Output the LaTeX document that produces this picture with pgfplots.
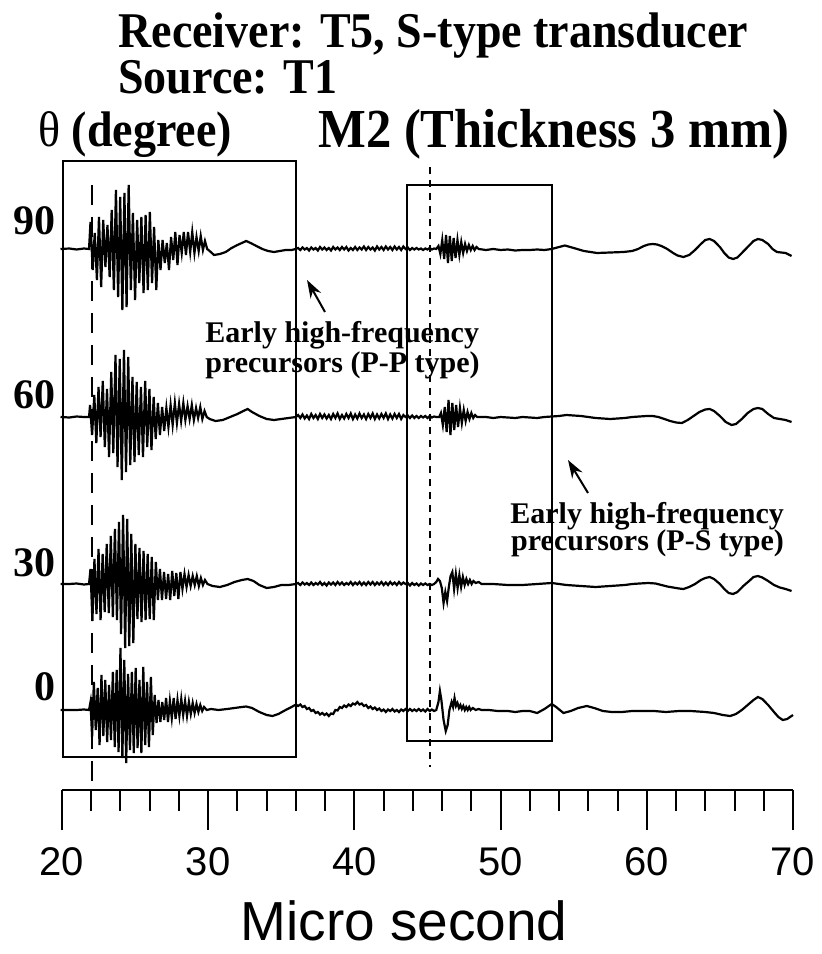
\documentclass[border=0pt]{standalone}
\usepackage{fontspec}
\setmainfont{Liberation Serif}
\setsansfont{Liberation Sans}
\newfontfamily\narrowserif[FakeStretch=0.92]{Liberation Serif}
\usepackage{pgfplots}
\pgfplotsset{compat=1.18}
\usepackage{pgfplotstable}
\usetikzlibrary{arrows.meta}

% t = time (micro second), a = trace deflection (arbitrary units, up positive)
\pgfplotstableread[row sep=\\]{
t a\\
19.90 0\\ 20.50 0.5\\ 21.00 -0.5\\ 21.50 0.5\\ 21.85 0\\
21.95 27\\ 22.10 -21\\ 22.24 16\\ 22.39 -31\\ 22.53 32\\ 22.68 -38\\ 22.82 29\\ 22.97 -18\\
23.11 24\\ 23.26 -28\\ 23.40 39\\ 23.55 -41\\ 23.69 59\\ 23.84 -48\\ 23.98 52\\ 24.13 -61\\
24.27 56\\ 24.42 -58\\ 24.56 64\\ 24.71 -41\\ 24.85 36\\ 25.00 -51\\ 25.14 29\\ 25.29 -34\\
25.43 32\\ 25.58 -44\\ 25.72 34\\ 25.87 -41\\ 26.01 37\\ 26.16 -34\\ 26.30 22\\ 26.45 -41\\
26.59 9\\ 26.74 -21\\ 26.88 9\\ 27.03 -14\\ 27.17 6\\ 27.32 -21\\ 27.46 12\\ 27.61 -11\\
27.75 17\\ 27.90 -16\\ 28.04 14\\ 28.19 -4\\ 28.33 17\\ 28.48 -6\\ 28.62 17\\ 28.77 -3\\
28.91 17\\ 29.06 -4\\ 29.20 12\\ 29.35 -2\\ 29.49 13\\ 29.64 -1\\ 29.78 8\\ 29.93 0\\
30.10 -2\\ 30.40 -6\\ 30.80 -5\\ 31.20 -3\\ 31.60 1\\ 32.00 4\\ 32.30 6\\ 32.60 8\\ 32.90 6\\
33.30 3\\ 33.70 0\\ 34.10 -2\\ 34.50 -3\\ 34.90 -2\\ 35.30 -1\\ 35.70 -1\\ 36.00 0\\
36.15 1\\ 36.30 -1\\ 36.45 1.5\\ 36.60 -0.5\\ 36.75 1\\ 36.90 -1.5\\ 37.05 1.5\\ 37.20 -0.5\\
37.35 1\\ 37.50 -1.5\\ 37.65 2\\ 37.80 -0.5\\ 37.95 1.5\\ 38.10 -1\\ 38.25 1\\ 38.40 -1.5\\
38.55 2\\ 38.70 -0.5\\ 38.85 1.5\\ 39.00 -1\\ 39.15 2\\ 39.30 -0.5\\ 39.45 2\\ 39.60 -1.5\\
39.75 1\\ 39.90 -1\\ 40.05 2\\ 40.20 -1\\ 40.35 1.5\\ 40.50 -0.5\\ 40.65 2.5\\ 40.80 -1\\
40.95 2\\ 41.10 -0.5\\ 41.25 1.5\\ 41.40 -1.5\\ 41.55 2.5\\ 41.70 -0.5\\ 41.85 2\\ 42.00 -1\\
42.15 2.5\\ 42.30 -0.5\\ 42.45 2\\ 42.60 -1\\ 42.75 2.5\\ 42.90 -0.5\\ 43.05 2\\ 43.20 -1\\
43.35 2.5\\ 43.50 0\\
43.65 1.5\\ 43.80 -1\\ 43.95 1\\ 44.10 -0.5\\ 44.25 1\\ 44.40 -0.5\\ 44.55 0.5\\ 44.70 -1\\
44.85 0.5\\ 45.00 -0.5\\ 45.15 1\\ 45.30 -0.5\\ 45.45 0.5\\ 45.60 0\\
45.75 3\\ 45.88 -5\\ 46.01 9\\ 46.14 -10\\ 46.27 14\\ 46.40 -14\\ 46.53 13\\ 46.66 -12\\
46.79 11\\ 46.92 -9\\ 47.05 9\\ 47.18 -6\\ 47.31 7\\ 47.44 -4\\ 47.57 5\\ 47.70 -2\\
47.83 4\\ 47.96 -1\\ 48.09 3\\ 48.22 -1\\ 48.35 2\\ 48.50 0\\ 49.00 -1\\ 49.50 0\\
50.00 -1\\ 50.50 -0.5\\ 51.00 -1.5\\ 51.50 -1\\ 52.00 -1\\ 52.50 -0.5\\ 53.00 -1\\ 53.50 0\\
54.00 2\\ 54.40 3.5\\ 55.00 1\\ 55.70 -2\\ 56.60 -4\\ 57.50 -3.5\\ 58.40 -3\\
59.00 -2\\ 59.40 0\\ 59.80 3\\ 60.10 4.5\\ 60.40 5\\ 60.70 4.5\\ 61.00 3\\ 61.40 0\\
61.80 -4\\ 62.10 -6.5\\ 62.50 -8\\ 62.90 -6\\ 63.30 -1\\ 63.70 5\\ 64.00 9\\ 64.30 10\\
64.60 8\\ 65.00 2\\ 65.30 -4\\ 65.60 -8.5\\ 65.90 -10\\ 66.20 -8.5\\ 66.50 -4\\ 66.90 2\\
67.30 8\\ 67.60 10\\ 67.90 9\\ 68.30 5\\ 68.60 0\\ 68.90 -3\\ 69.20 -3.5\\ 69.50 -4\\ 69.90 -7\\
}\trNinety

\pgfplotstableread[row sep=\\]{
t a\\
19.90 0\\ 20.50 -0.5\\ 21.00 0.5\\ 21.50 0\\ 21.85 0\\
21.92 12\\ 22.06 -18\\ 22.21 22\\ 22.35 -26\\ 22.50 30\\ 22.64 -20\\ 22.79 36\\ 22.93 -30\\
23.08 28\\ 23.22 -40\\ 23.37 45\\ 23.51 -36\\ 23.66 62\\ 23.80 -50\\ 23.95 58\\ 24.09 -63\\
24.24 67\\ 24.38 -55\\ 24.53 60\\ 24.67 -48\\ 24.82 40\\ 24.96 -45\\ 25.11 35\\ 25.25 -38\\
25.40 30\\ 25.54 -40\\ 25.69 36\\ 25.83 -30\\ 25.98 28\\ 26.12 -33\\ 26.27 20\\ 26.41 -22\\
26.56 14\\ 26.70 -18\\ 26.85 10\\ 26.99 -14\\ 27.14 9\\ 27.28 -10\\ 27.43 12\\ 27.57 -8\\
27.72 14\\ 27.86 -6\\ 28.01 13\\ 28.15 -4\\ 28.30 14\\ 28.44 -3\\ 28.59 11\\ 28.73 -2\\
28.88 12\\ 29.02 -3\\ 29.17 9\\ 29.31 -1\\ 29.46 10\\ 29.60 -2\\ 29.75 6\\ 29.90 0\\
30.10 -2\\ 30.50 -4\\ 31.00 -3\\ 31.50 0\\ 32.00 3\\ 32.40 6\\ 32.70 8\\ 33.00 5\\ 33.50 1\\
34.00 -2\\ 34.50 -3\\ 35.00 -2\\ 35.50 -1\\ 36.00 0\\
36.15 2\\ 36.30 -1\\ 36.45 2.5\\ 36.60 -1.5\\ 36.75 1.5\\ 36.90 -2\\ 37.05 3\\ 37.20 -1\\
37.35 2\\ 37.50 -2\\ 37.65 3\\ 37.80 -1\\ 37.95 2.5\\ 38.10 -1.5\\ 38.25 2\\ 38.40 -2\\
38.55 3\\ 38.70 -1\\ 38.85 3.5\\ 39.00 -2\\ 39.15 2\\ 39.30 -1.5\\ 39.45 3\\ 39.60 -1\\
39.75 3.5\\ 39.90 -2\\ 40.05 2.5\\ 40.20 -1.5\\ 40.35 3.5\\ 40.50 -1\\ 40.65 2.5\\ 40.80 -2\\
40.95 3\\ 41.10 -1\\ 41.25 3.5\\ 41.40 -2\\ 41.55 2.5\\ 41.70 -1.5\\ 41.85 3\\ 42.00 -1\\
42.15 3.5\\ 42.30 -2\\ 42.45 2.5\\ 42.60 -1.5\\ 42.75 3\\ 42.90 -1\\ 43.05 3\\ 43.20 -2\\
43.35 2\\ 43.50 0\\
43.65 1.5\\ 43.80 -1\\ 43.95 1.5\\ 44.10 -1\\ 44.25 1\\ 44.40 -1\\ 44.55 1\\ 44.70 -0.5\\
44.85 1\\ 45.00 -1\\ 45.15 1\\ 45.30 -0.5\\ 45.45 0.5\\ 45.60 0\\ 45.80 0\\
45.92 4\\ 46.05 -8\\ 46.18 10\\ 46.31 -15\\ 46.44 17\\ 46.57 -18\\ 46.70 14\\ 46.83 -13\\
46.96 12\\ 47.09 -10\\ 47.22 9\\ 47.35 -6\\ 47.48 7\\ 47.61 -4\\ 47.74 5\\ 47.87 -2\\
48.00 4\\ 48.13 -1\\ 48.26 2\\ 48.40 0\\ 49.00 0\\ 49.50 -1\\ 50.00 0\\ 50.50 -0.5\\
51.00 -1\\ 51.50 0\\ 52.00 -0.5\\ 52.50 -1\\ 53.00 0\\ 53.50 0.5\\
54.00 1\\ 54.50 2\\ 55.00 1.5\\ 55.50 1\\ 56.00 0\\ 56.50 -1\\ 57.00 -1.5\\ 57.50 -2\\
58.00 -1.5\\ 58.50 -1\\ 59.00 0\\ 59.50 0.5\\ 60.00 1\\ 60.40 1\\ 60.80 0\\ 61.20 -2\\
61.60 -4\\ 62.00 -5.5\\ 62.40 -6\\ 62.80 -3\\ 63.20 1\\ 63.60 5\\ 64.00 7.5\\ 64.30 8\\
64.60 6\\ 65.00 1\\ 65.40 -5\\ 65.80 -8\\ 66.10 -7\\ 66.50 -2\\ 66.90 4\\ 67.30 8\\
67.60 9\\ 67.90 8\\ 68.30 3\\ 68.70 -1\\ 69.10 -2\\ 69.50 -3\\ 69.90 -5\\
}\trSixty

\pgfplotstableread[row sep=\\]{
t a\\
19.90 0\\ 20.50 0\\ 21.00 0.5\\ 21.50 -0.5\\ 21.85 0\\
21.95 15\\ 22.08 -37\\ 22.22 25\\ 22.36 -30\\ 22.50 35\\ 22.64 -36\\ 22.78 30\\ 22.92 -28\\
23.06 40\\ 23.20 -29\\ 23.34 48\\ 23.48 -33\\ 23.62 55\\ 23.76 -36\\ 23.90 62\\ 24.04 -50\\
24.18 69\\ 24.32 -64\\ 24.46 65\\ 24.60 -62\\ 24.74 50\\ 24.88 -59\\ 25.02 40\\ 25.16 -35\\
25.30 36\\ 25.44 -38\\ 25.58 33\\ 25.72 -36\\ 25.86 30\\ 26.00 -35\\ 26.14 27\\ 26.28 -36\\
26.42 22\\ 26.56 -16\\ 26.70 15\\ 26.84 -16\\ 26.98 12\\ 27.12 -15\\ 27.26 10\\ 27.40 -16\\
27.54 13\\ 27.68 -12\\ 27.82 11\\ 27.96 -15\\ 28.10 12\\ 28.24 -5\\ 28.38 10\\ 28.52 -3\\
28.66 9\\ 28.80 -2\\ 28.94 8\\ 29.08 -1\\ 29.22 8\\ 29.36 -2\\ 29.50 6\\ 29.64 -1\\
29.78 4\\ 29.95 0\\
30.30 -2\\ 30.80 -3\\ 31.30 -1\\ 31.80 2\\ 32.30 4\\ 32.70 5\\ 33.10 3\\ 33.50 -1\\
34.00 -4\\ 34.50 -3\\ 35.00 -1\\ 35.50 -1\\ 36.00 0\\
36.15 1\\ 36.30 -1\\ 36.45 1.5\\ 36.60 -0.5\\ 36.75 1\\ 36.90 -1\\ 37.05 1.5\\ 37.20 -1\\
37.35 1\\ 37.50 -0.5\\ 37.65 2\\ 37.80 -1\\ 37.95 1\\ 38.10 -1.5\\ 38.25 1.5\\ 38.40 -0.5\\
38.55 1.5\\ 38.70 -1\\ 38.85 2\\ 39.00 -0.5\\ 39.15 1.5\\ 39.30 -1\\ 39.45 1\\ 39.60 -0.5\\
39.75 2\\ 39.90 -1\\ 40.05 1.5\\ 40.20 -0.5\\ 40.35 2\\ 40.50 -1\\ 40.65 1.5\\ 40.80 -1\\
40.95 2\\ 41.10 -0.5\\ 41.25 2\\ 41.40 -1\\ 41.55 1.5\\ 41.70 -0.5\\ 41.85 2\\ 42.00 -1\\
42.15 1.5\\ 42.30 -1\\ 42.45 2\\ 42.60 -0.5\\ 42.75 1.5\\ 42.90 -1\\ 43.05 2\\ 43.20 -0.5\\
43.35 1.5\\ 43.50 0\\
43.65 1\\ 43.80 -1.5\\ 43.95 1\\ 44.10 -1\\ 44.25 0.5\\ 44.40 -1.5\\ 44.55 0.5\\ 44.70 -1\\
44.85 0.5\\ 45.00 -1\\ 45.15 0\\ 45.30 -1\\ 45.45 0\\ 45.60 2\\
45.72 5\\ 45.85 3\\ 45.98 -4\\ 46.10 -19\\ 46.22 -8\\ 46.34 -17\\ 46.46 -3\\ 46.58 8\\
46.70 12\\ 46.82 -5\\ 46.94 10\\ 47.06 -4\\ 47.18 9\\ 47.30 -3\\ 47.42 7\\ 47.54 -1\\
47.66 5\\ 47.78 0\\ 47.90 4\\ 48.02 0\\ 48.14 3\\ 48.30 1\\ 48.50 2\\ 48.70 0\\
49.50 0\\ 50.50 -1\\ 51.50 -1\\ 52.50 0\\ 53.50 1\\
54.00 0\\ 54.50 -1\\ 55.00 -1.5\\ 55.50 -2\\ 56.00 -2.5\\ 56.50 -3\\ 57.00 -2.5\\ 57.50 -2\\
58.00 -1.5\\ 58.50 -1\\ 59.00 0\\ 59.50 0.5\\ 60.10 1\\ 60.60 0.5\\ 61.00 -1\\ 61.40 -2.5\\
61.80 -3.5\\ 62.20 -4.5\\ 62.50 -5\\ 62.90 -3\\ 63.30 0\\ 63.70 4\\ 64.00 6\\ 64.30 7\\
64.60 5\\ 65.00 0\\ 65.30 -5\\ 65.60 -9\\ 65.90 -10\\ 66.20 -8\\ 66.60 -2\\ 67.00 3\\
67.30 7\\ 67.60 8\\ 67.90 6.5\\ 68.30 3\\ 68.70 -1\\ 69.10 -3.5\\ 69.50 -5\\ 69.90 -7\\
}\trThirty

\pgfplotstableread[row sep=\\]{
t a\\
19.90 0\\ 20.50 0\\ 21.00 0\\ 21.50 0.5\\ 21.85 0\\
21.95 8\\ 22.06 -27\\ 22.18 28\\ 22.31 -20\\ 22.44 22\\ 22.57 -35\\ 22.70 35\\ 22.83 -26\\
22.96 30\\ 23.09 -32\\ 23.22 25\\ 23.35 -30\\ 23.48 38\\ 23.61 -37\\ 23.74 40\\ 23.87 -42\\
24.00 62\\ 24.13 -48\\ 24.26 50\\ 24.39 -53\\ 24.52 36\\ 24.65 -40\\ 24.78 38\\ 24.91 -43\\
25.04 42\\ 25.17 -38\\ 25.30 30\\ 25.43 -43\\ 25.56 43\\ 25.69 -35\\ 25.82 28\\ 25.95 -37\\
26.08 33\\ 26.21 -25\\ 26.34 15\\ 26.47 -13\\ 26.60 10\\ 26.73 -12\\ 26.86 8\\ 26.99 -10\\
27.12 12\\ 27.25 -12\\ 27.38 9\\ 27.51 -8\\ 27.64 12\\ 27.77 -9\\ 27.90 10\\ 28.03 -6\\
28.16 11\\ 28.29 -5\\ 28.42 9\\ 28.55 -6\\ 28.68 8\\ 28.81 -4\\ 28.94 7\\ 29.07 -3\\
29.20 6\\ 29.33 -2\\ 29.46 5\\ 29.59 -1\\ 29.72 3\\ 29.90 0\\
30.20 1\\ 30.70 0\\ 31.30 1\\ 31.80 2\\ 32.30 3\\ 32.60 3.5\\ 33.00 2\\ 33.50 -2\\
34.00 -5\\ 34.40 -6\\ 34.80 -4\\ 35.30 0\\ 35.70 3\\
36.00 5.5\\ 36.15 4\\ 36.30 5.5\\ 36.45 3\\ 36.60 4\\ 36.75 1\\ 36.90 2\\ 37.05 -1\\
37.20 0\\ 37.35 -3\\ 37.50 -2\\ 37.65 -4.5\\ 37.80 -3\\ 37.95 -5\\ 38.10 -3.5\\ 38.25 -6\\
38.40 -3.5\\ 38.55 -4\\ 38.70 0\\ 38.85 -0.5\\ 39.00 3\\ 39.15 2\\ 39.30 4.5\\ 39.45 3\\
39.60 5.5\\ 39.75 4\\ 39.90 6.5\\ 40.05 5.5\\ 40.20 8\\ 40.35 5.5\\ 40.50 6.5\\ 40.65 4\\
40.80 5\\ 40.95 2\\ 41.10 3.5\\ 41.25 1\\ 41.40 2.5\\ 41.55 0\\ 41.70 1.5\\ 41.85 -1\\
42.00 0.5\\ 42.15 -2\\ 42.30 0.5\\ 42.45 -1\\ 42.60 1\\ 42.75 -1.5\\ 42.90 0\\ 43.05 -2\\
43.20 0.5\\ 43.35 -1\\ 43.50 1\\
43.65 -1\\ 43.80 1\\ 43.95 -1\\ 44.10 0.5\\ 44.25 -1\\ 44.40 1\\ 44.55 -1\\ 44.70 0.5\\
44.85 -1.5\\ 45.00 1\\ 45.15 -1\\ 45.30 0.5\\ 45.45 -1\\ 45.60 0\\
45.75 8\\ 45.85 19\\ 45.95 10\\ 46.10 -10\\ 46.25 -21\\ 46.38 -15\\ 46.50 0\\ 46.65 8\\
46.75 3\\ 46.85 12\\ 46.95 4\\ 47.05 7\\ 47.15 2\\ 47.25 5\\ 47.35 1\\ 47.45 4\\
47.55 0\\ 47.65 3\\ 47.75 0\\ 47.85 3\\ 47.95 0\\ 48.10 2\\ 48.30 0\\ 48.50 1\\ 48.70 0\\
49.20 0\\ 49.80 -1\\ 50.50 -1\\ 51.00 -2\\ 51.50 -1\\ 52.00 -1\\ 52.50 -3\\ 53.00 1\\
53.50 6\\ 53.80 3\\ 54.30 -3\\ 54.80 -1\\ 55.30 2\\ 55.90 4\\ 56.40 2\\ 57.00 -1\\
57.60 -2\\ 58.30 -2\\ 59.00 -1\\ 59.80 -1\\ 60.50 -1\\ 61.30 -2\\ 62.20 -1\\ 63.00 -1\\
64.00 -2\\ 64.60 -3\\ 65.20 -5\\ 65.70 -6\\ 66.10 -4\\ 66.50 0\\ 66.90 5\\ 67.30 10\\
67.60 13\\ 67.90 11\\ 68.30 5\\ 68.70 -2\\ 69.00 -7\\ 69.30 -10\\ 69.60 -9\\ 70.00 -5\\
}\trZero

\begin{document}
\begin{tikzpicture}
\begin{axis}[
    x=7.31pt, y=0.5pt,
    xmin=20, xmax=70, ymin=164, ymax=854,
    axis x line*=bottom, axis y line=none,
    ytick=\empty,
    xtick={20,30,40,50,60,70}, xticklabels={20,30,40,50,60,70},
    minor xtick={22,24,26,28,32,34,36,38,42,44,46,48,52,54,56,58,62,64,66,68},
    tick align=outside,
    major tick length=20pt, minor tick length=10.5pt,
    tick style={black,line width=1pt},
    x axis line style={line width=1.4pt,-},
    xticklabel style={font=\sffamily\fontsize{20}{20}\selectfont, yshift=-5pt},
    clip=false,
]
  % page frame with the reference proportions
  \path (axis cs:15.76,0) rectangle (axis cs:71.78,954);

  % traces, offset to their row
  \addplot[black,line width=1.1pt] table[x=t,y expr=\thisrow{a}+705] {\trNinety};
  \addplot[black,line width=1.1pt] table[x=t,y expr=\thisrow{a}+537] {\trSixty};
  \addplot[black,line width=1.1pt] table[x=t,y expr=\thisrow{a}+370] {\trThirty};
  \addplot[black,line width=1.1pt] table[x=t,y expr=\thisrow{a}+244] {\trZero};

  % boxes and arrival lines
  \draw[line width=1pt] (axis cs:20.1,197) rectangle (axis cs:36.0,793);
  \draw[line width=1pt] (axis cs:43.6,213) rectangle (axis cs:53.5,769);
  \draw[line width=1pt,dash pattern=on 10pt off 6pt] (axis cs:22.05,769) -- (axis cs:22.05,161);
  \draw[line width=1pt,dash pattern=on 3.5pt off 3pt] (axis cs:45.2,787) -- (axis cs:45.2,187);

  % titles
  \node[anchor=base west,inner sep=0pt,font=\narrowserif\bfseries\fontsize{25}{26}\selectfont] at (axis cs:23.83,906) {Receiver: T5, S-type transducer};
  \node[anchor=base west,inner sep=0pt,font=\narrowserif\bfseries\fontsize{25}{26}\selectfont] at (axis cs:23.83,860) {Source: T1};
  \node[anchor=base west,inner sep=0pt,font=\narrowserif\bfseries\fontsize{25}{26}\selectfont] at (axis cs:18.35,807) {{\mdseries θ} (degree)};
  \node[anchor=base west,inner sep=0pt,font=\narrowserif\bfseries\fontsize{27.5}{28}\selectfont] at (axis cs:37.51,806) {M2 (Thickness 3 mm)};

  % row labels
  \node[anchor=base east,inner sep=0pt,font=\bfseries\fontsize{21}{21}\selectfont] at (axis cs:19.59,719) {90};
  \node[anchor=base east,inner sep=0pt,font=\bfseries\fontsize{21}{21}\selectfont] at (axis cs:19.59,546) {60};
  \node[anchor=base east,inner sep=0pt,font=\bfseries\fontsize{21}{21}\selectfont] at (axis cs:19.59,378) {30};
  \node[anchor=base east,inner sep=0pt,font=\bfseries\fontsize{21}{21}\selectfont] at (axis cs:19.59,254) {0};

  % annotations
  \node[anchor=base west,inner sep=0pt,font=\bfseries\fontsize{15}{15}\selectfont] at (axis cs:29.78,612) {Early high-frequency};
  \node[anchor=base west,inner sep=0pt,font=\bfseries\fontsize{15}{15}\selectfont] at (axis cs:29.78,582) {precursors (P-P type)};
  \draw[-{Stealth[length=9pt,width=6pt]},line width=1pt] (axis cs:37.99,642) -- (axis cs:36.76,674);
  \node[anchor=base west,inner sep=0pt,font=\bfseries\fontsize{15}{15}\selectfont] at (axis cs:50.64,431) {Early high-frequency};
  \node[anchor=base west,inner sep=0pt,font=\bfseries\fontsize{15}{15}\selectfont] at (axis cs:50.70,404) {precursors (P-S type)};
  \draw[-{Stealth[length=9pt,width=6pt]},line width=1pt] (axis cs:55.98,461) -- (axis cs:54.61,494);

  % axis title
  \node[anchor=base,inner sep=0pt,font=\sffamily\fontsize{27.5}{28}\selectfont] at (axis cs:43.4,14) {Micro second};
\end{axis}
\end{tikzpicture}
\end{document}
